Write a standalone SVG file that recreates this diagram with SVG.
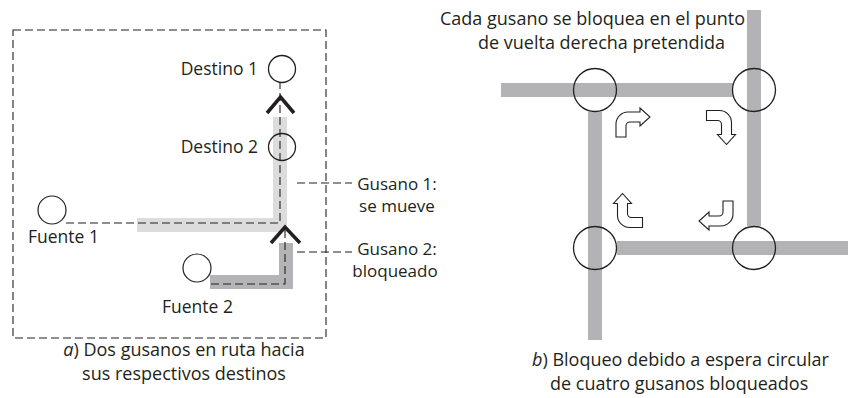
<svg xmlns="http://www.w3.org/2000/svg" width="848" height="398" viewBox="0 0 848 398">
<style>
text{font-family:"Open Sans","Noto Sans","DejaVu Sans",sans-serif;font-size:17.5px;fill:#231f20;font-variant-ligatures:none}
.cap{font-size:18px}
.lbl{font-size:17px}
.dash{fill:none;stroke:#231f20;stroke-width:1.1;stroke-dasharray:8 4}
.node{fill:#fff;stroke:#231f20;stroke-width:1.2}
.ring{fill:none;stroke:#231f20;stroke-width:1.3}
.road{fill:none;stroke:#b3b3b5;stroke-width:14}
.chev{fill:none;stroke:#231f20;stroke-width:3.5;stroke-linejoin:miter}
.barrow{fill:#fff;stroke:#231f20;stroke-width:1.1;stroke-linejoin:miter}
</style>
<defs>
<path id="turn" d="M616,137 L616,124 A12,12 0 0 1 628,112 L640,112 L640,108 L650,117 L640,126 L640,122 L630,122 A4,4 0 0 0 626,126 L626,137 Z"/>
</defs>
<g id="panel-a">
<rect x="13" y="30" width="313" height="308" class="dash" stroke="#444"/>
<g id="worm1">
<polyline points="137,225 280,225 280,117" fill="none" stroke="#dcdcdd" stroke-width="14"/>
</g>
<g id="worm2">
<polyline points="210,282 286,282 286,243" fill="none" stroke="#b4b4b6" stroke-width="14"/>
</g>
<g id="connectors">
<polyline class="dash" points="66,223 280,223 280,83"/>
<polyline class="dash" points="211,284 285,284 285,228"/>
<line class="dash" x1="297" y1="183" x2="352" y2="183"/>
<line class="dash" x1="297" y1="252" x2="352" y2="252"/>
<polyline class="chev" points="267,113 280.5,97 294,113"/>
<polyline class="chev" points="271,243 285,227 300,243"/>
</g>
<g id="destino1"><circle class="ring" cx="282" cy="69" r="13.5"/><text x="258" y="75" text-anchor="end">Destino 1</text></g>
<g id="destino2"><circle class="ring" cx="282" cy="147" r="13.5"/><text x="258" y="153" text-anchor="end">Destino 2</text></g>
<g id="fuente1"><circle class="node" cx="52" cy="210" r="14"/><text x="28" y="243">Fuente 1</text></g>
<g id="fuente2"><circle class="node" cx="197" cy="268" r="14"/><text x="162" y="313">Fuente 2</text></g>
<g id="label-gusano1"><text class="lbl" x="397" y="190" text-anchor="middle">Gusano 1:</text><text class="lbl" x="397" y="212" text-anchor="middle">se mueve</text></g>
<g id="label-gusano2"><text class="lbl" x="397" y="255" text-anchor="middle">Gusano 2:</text><text class="lbl" x="395" y="277" text-anchor="middle">bloqueado</text></g>
<text class="cap" x="184" y="356" text-anchor="middle"><tspan font-style="italic">a</tspan>) Dos gusanos en ruta hacia</text>
<text class="cap" x="184" y="380" text-anchor="middle">sus respectivos destinos</text>
</g>
<g id="panel-b">
<text class="cap" x="440" y="25">Cada gusano se bloquea en el punto</text>
<text class="cap" x="478" y="49">de vuelta derecha pretendida</text>
<g id="roads">
<line class="road" x1="501" y1="90" x2="733" y2="90"/>
<line class="road" x1="754" y1="10" x2="754" y2="226"/>
<line class="road" x1="617" y1="248" x2="848" y2="248"/>
<line class="road" x1="595" y1="112" x2="595" y2="340"/>
</g>
<g id="router-tl"><circle class="ring" cx="595" cy="90" r="21.5"/></g>
<g id="router-tr"><circle class="ring" cx="754" cy="90" r="21.5"/></g>
<g id="router-bl"><circle class="ring" cx="595" cy="248" r="21.5"/></g>
<g id="router-br"><circle class="ring" cx="754" cy="248" r="21.5"/></g>
<g id="turns">
<use href="#turn" class="barrow"/>
<use href="#turn" class="barrow" transform="rotate(90 674.5 169)"/>
<use href="#turn" class="barrow" transform="rotate(180 674.5 169)"/>
<use href="#turn" class="barrow" transform="rotate(270 674.5 169)"/>
</g>
<text class="cap" x="532" y="366"><tspan font-style="italic">b</tspan>) Bloqueo debido a espera circular</text>
<text class="cap" x="550" y="390">de cuatro gusanos bloqueados</text>
</g>
</svg>
